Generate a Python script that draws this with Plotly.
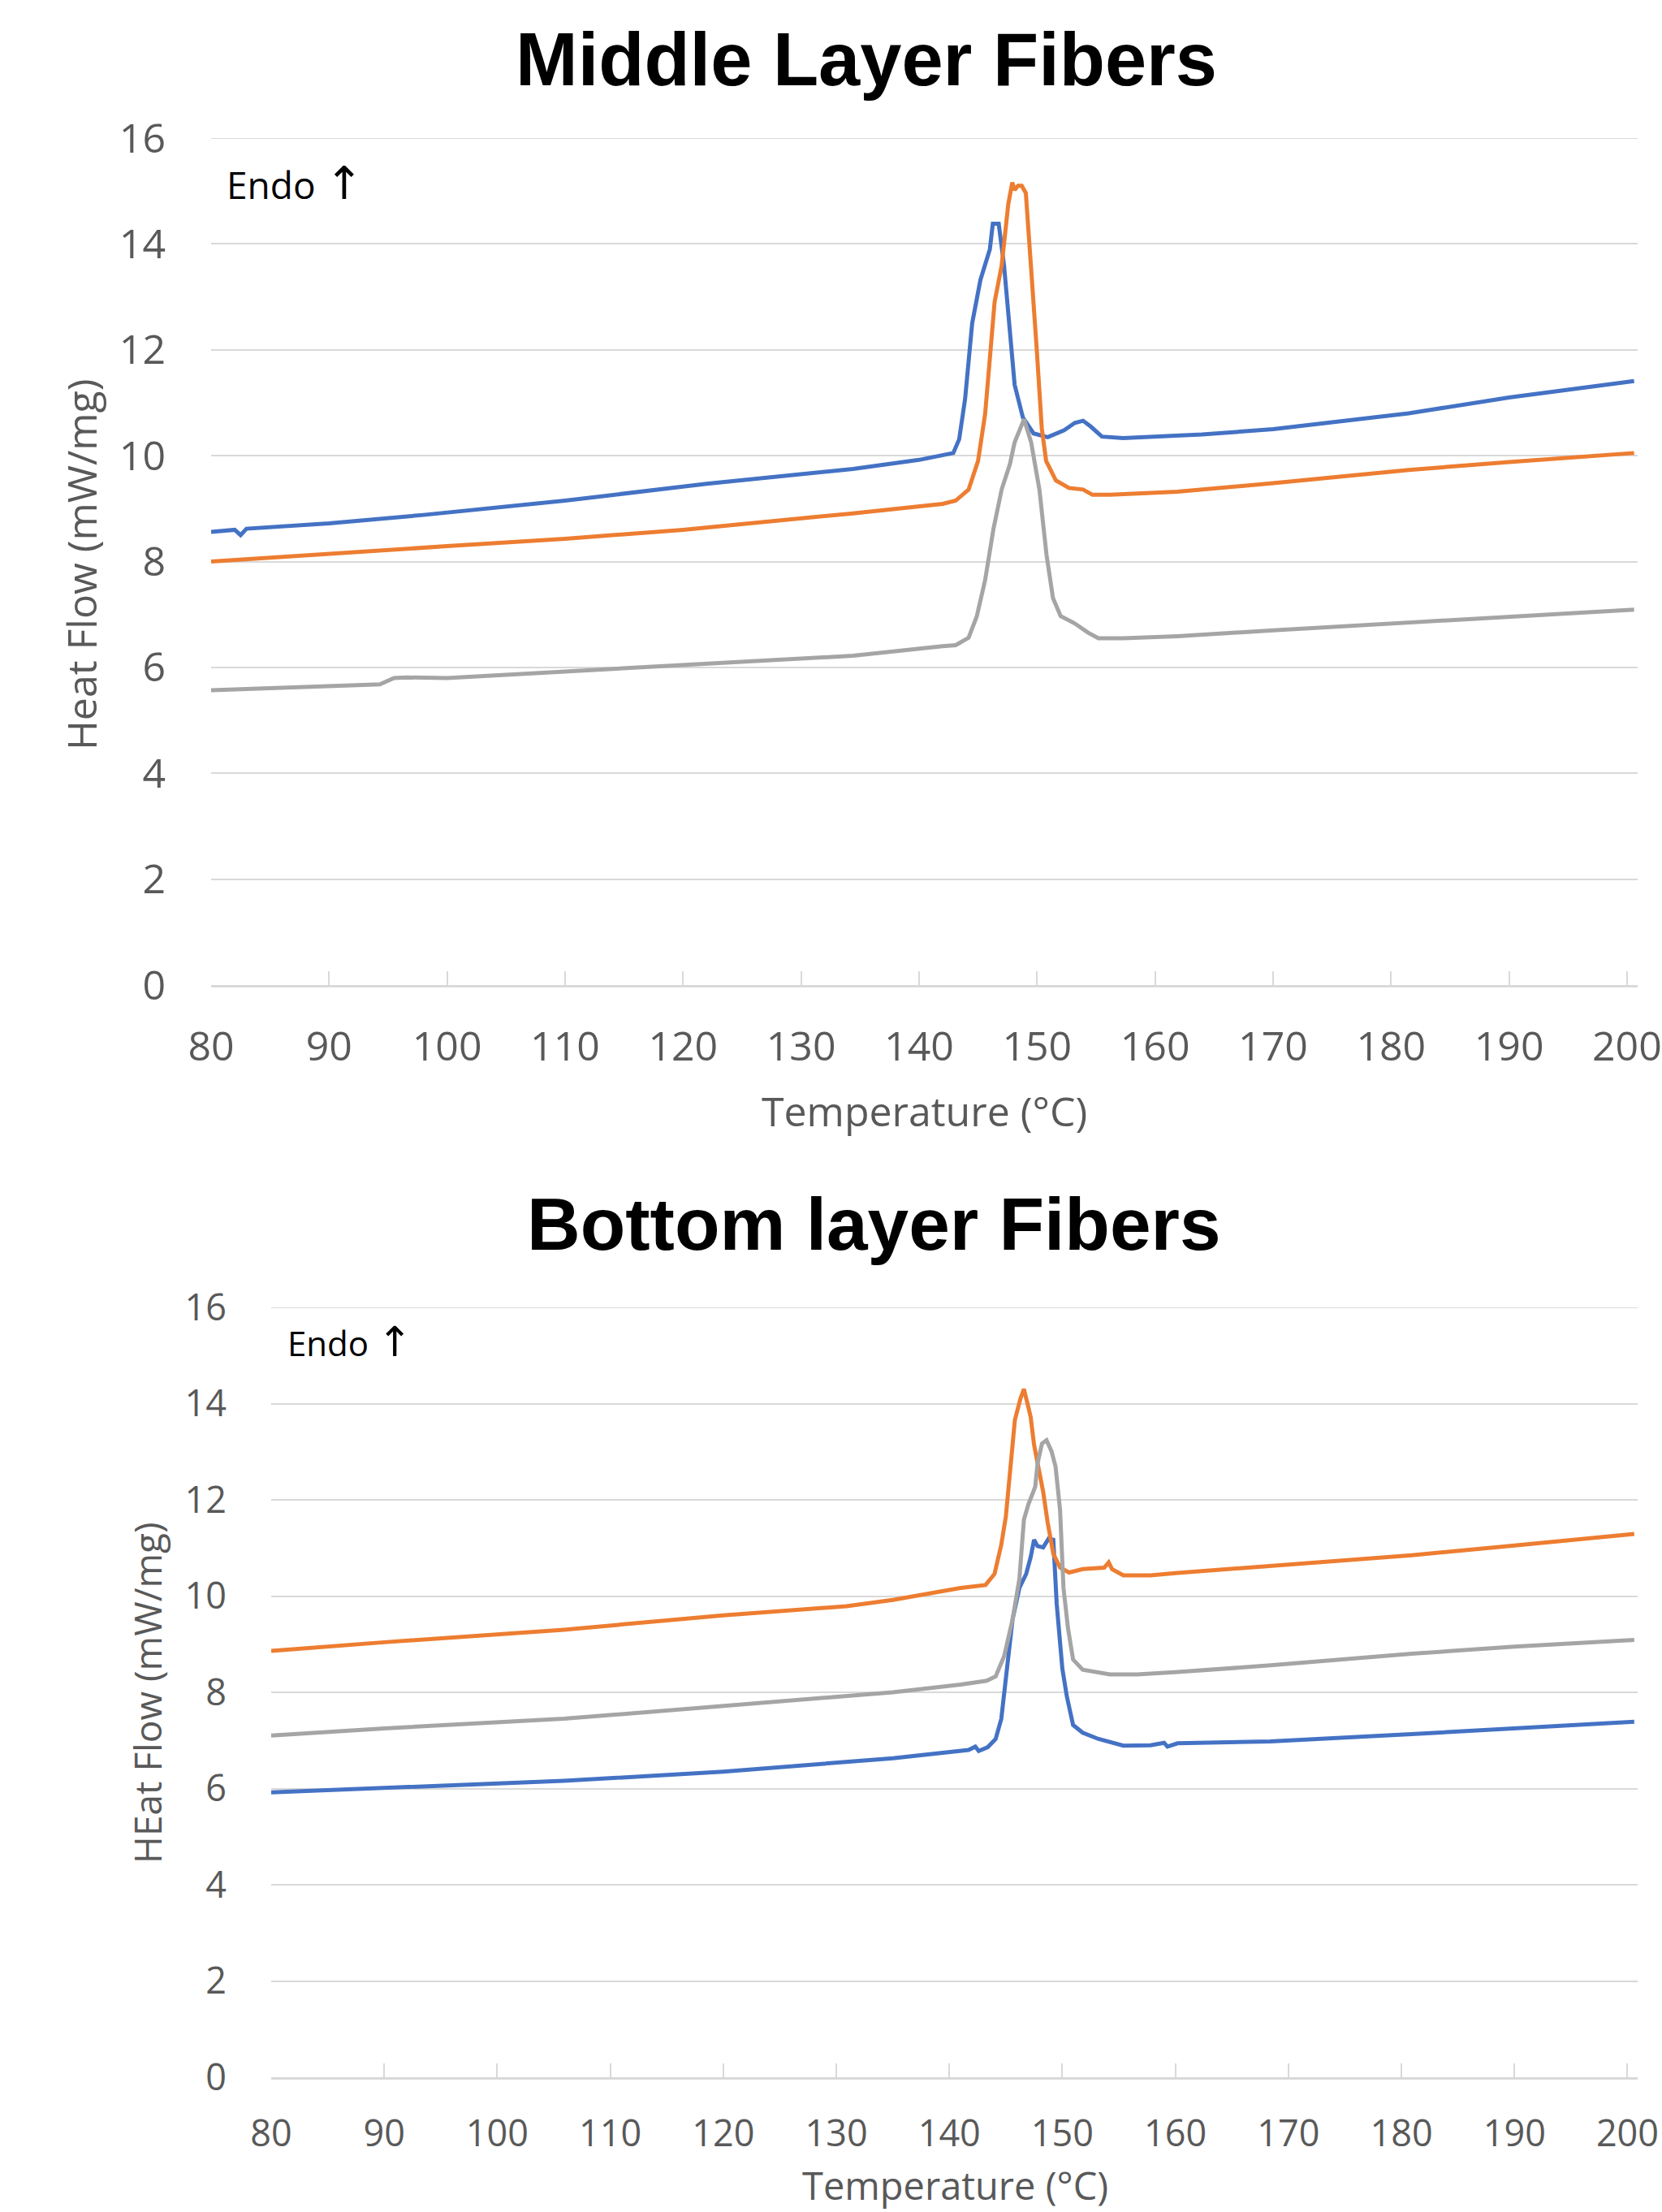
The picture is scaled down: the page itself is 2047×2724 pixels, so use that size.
import plotly.graph_objects as go

W, H = 2047, 2724

# ---------------- Data: Middle Layer Fibers ----------------
mid_blue_T = [80, 82, 82.5, 83, 90, 98, 110, 122, 134.4, 140, 142.9, 143.4, 143.9, 144.5, 145.2, 146.0,
              146.25, 146.75, 147.2, 147.7, 148.1, 148.8, 149.7, 150.9, 152.3, 153.2, 153.9, 154.55,
              155.5, 157.3, 161.7, 164, 170, 181.5, 190, 200.6]
mid_blue_v = [8.56, 8.6, 8.5, 8.62, 8.72, 8.88, 9.15, 9.47, 9.75, 9.92, 10.05, 10.31, 11.07, 12.5, 13.32, 13.9,
              14.38, 14.38, 13.6, 12.43, 11.34, 10.72, 10.42, 10.35, 10.48, 10.62, 10.66, 10.55,
              10.36, 10.33, 10.38, 10.4, 10.5, 10.8, 11.1, 11.41]

mid_orange_T = [80, 90, 100, 110, 120, 134.4, 142, 143.1, 144.2, 145.0, 145.6, 146.07, 146.4, 147.0, 147.56,
                147.9, 148.1, 148.4, 148.7, 149.05, 149.5, 149.97, 150.4, 150.77, 151.6, 152.7, 153.9, 154.7,
                156.2, 161.9, 170, 181.5, 190, 200.6]
mid_orange_v = [8.0, 8.15, 8.29, 8.43, 8.6, 8.91, 9.09, 9.15, 9.36, 9.9, 10.79, 12.02, 12.9, 13.59, 14.75,
                15.16, 15.02, 15.1, 15.1, 14.96, 13.59, 12.02, 10.52, 9.9, 9.53, 9.39, 9.36, 9.26,
                9.26, 9.32, 9.48, 9.73, 9.88, 10.05]

mid_gray_T = [80, 90, 94.3, 95.5, 96.5, 100, 110, 122, 134.4, 142, 143.1, 144.2, 144.9, 145.6, 146.3, 147.0,
              147.7, 148.1, 148.9, 149.5, 150.2, 150.8, 151.35, 152.0, 153.2, 154.3, 155.2, 157.3, 161.9,
              170, 181.5, 190, 200.6]
mid_gray_v = [5.57, 5.64, 5.68, 5.8, 5.81, 5.8, 5.92, 6.08, 6.22, 6.4, 6.42, 6.56, 6.97, 7.65, 8.61, 9.36,
              9.84, 10.25, 10.69, 10.25, 9.36, 8.13, 7.31, 6.97, 6.83, 6.66, 6.55, 6.55, 6.59,
              6.7, 6.85, 6.97, 7.09]

# ---------------- Data: Bottom layer Fibers ----------------
bot_orange_T = [80, 90, 105.9, 120, 130.9, 135.0, 141.0, 143.2, 144.0, 144.6, 145.0, 145.4, 145.8, 146.3,
                146.6, 147.0, 147.2, 147.5, 147.96, 148.3, 148.7, 149.2, 149.8, 150.6, 151.8, 153.7, 154.1,
                154.4, 155.4, 157.8, 160.2, 168.4, 180.9, 190, 200.6]
bot_orange_v = [8.86, 9.04, 9.3, 9.6, 9.79, 9.92, 10.17, 10.23, 10.46, 11.07, 11.65, 12.75, 13.66, 14.11,
                14.3, 13.92, 13.72, 13.14, 12.56, 12.17, 11.53, 10.88, 10.59, 10.49, 10.56, 10.59, 10.7,
                10.56, 10.43, 10.43, 10.48, 10.62, 10.85, 11.05, 11.29]

bot_gray_T = [80, 90, 105.9, 120, 130.9, 135.0, 141.0, 143.3, 144.1, 144.85, 145.6, 146.2, 146.6, 147.0,
              147.6, 147.8, 148.2, 148.6, 149.04, 149.4, 149.8, 150.1, 150.5, 150.95, 151.8, 153.2, 154.2,
              156.6, 160.2, 168.4, 180.9, 190, 200.6]
bot_gray_v = [7.1, 7.25, 7.45, 7.72, 7.92, 8.0, 8.16, 8.24, 8.33, 8.75, 9.52, 10.36, 11.59, 11.91,
              12.27, 12.75, 13.17, 13.24, 13.01, 12.69, 11.78, 10.17, 9.33, 8.68, 8.47, 8.42, 8.37,
              8.37, 8.42, 8.56, 8.8, 8.95, 9.09]

bot_blue_T = [80, 90, 105.9, 120, 130.9, 135.0, 141.7, 142.3, 142.6, 143.4, 144.1, 144.6, 145.1, 145.6,
              146.2, 146.8, 147.2, 147.5, 147.8, 148.3, 148.8, 149.2, 149.5, 150.0, 150.4, 150.95, 151.8,
              153.2, 155.4, 157.8, 159.0, 159.3, 160.2, 168.4, 180.9, 190, 200.6]
bot_blue_v = [5.92, 6.02, 6.16, 6.35, 6.54, 6.63, 6.8, 6.87, 6.78, 6.86, 7.03, 7.45, 8.49, 9.52,
              10.17, 10.46, 10.81, 11.17, 11.04, 11.01, 11.2, 11.17, 9.84, 8.49, 7.91, 7.32, 7.16,
              7.03, 6.89, 6.9, 6.95, 6.87, 6.94, 6.98, 7.13, 7.25, 7.39]

x_ticks = [80, 90, 100, 110, 120, 130, 140, 150, 160, 170, 180, 190, 200]
y_ticks = [0, 2, 4, 6, 8, 10, 12, 14, 16]

BLUE, ORANGE, GRAY = "#4472C4", "#ED7D31", "#A5A5A5"
GRID = "#D9D9D9"
TXT = "#595959"
LW = 5


def px(x):
    return x / W


def py(y):
    return 1 - y / H


fig = go.Figure()

for T, v, c in [(mid_blue_T, mid_blue_v, BLUE), (mid_orange_T, mid_orange_v, ORANGE), (mid_gray_T, mid_gray_v, GRAY)]:
    fig.add_trace(go.Scatter(x=T, y=v, mode="lines", line=dict(color=c, width=LW), xaxis="x", yaxis="y",
                             showlegend=False, hoverinfo="skip"))
for T, v, c in [(bot_blue_T, bot_blue_v, BLUE), (bot_orange_T, bot_orange_v, ORANGE), (bot_gray_T, bot_gray_v, GRAY)]:
    fig.add_trace(go.Scatter(x=T, y=v, mode="lines", line=dict(color=c, width=LW), xaxis="x2", yaxis="y2",
                             showlegend=False, hoverinfo="skip"))


def xax(domain, anchor, fsize, standoff):
    return dict(domain=domain, anchor=anchor, range=[80, 200.9], tickvals=x_ticks,
                ticktext=[str(t) for t in x_ticks], showgrid=False, zeroline=False, automargin=False,
                showline=True, linecolor=GRID, linewidth=2.5, ticks="inside", ticklen=17,
                tickcolor=GRID, tickwidth=2, tickfont=dict(family="Open Sans", size=fsize, color=TXT),
                ticklabelstandoff=standoff)


def yax(domain, anchor, fsize, standoff):
    return dict(domain=domain, anchor=anchor, range=[0, 16], tickvals=y_ticks, automargin=False,
                showgrid=True, gridcolor=GRID, gridwidth=2, zeroline=False, showline=False,
                ticks="", tickfont=dict(family="Open Sans", size=fsize, color=TXT),
                ticklabelstandoff=standoff)


fig.update_layout(
    width=W, height=H, margin=dict(l=0, r=0, t=0, b=0, autoexpand=False),
    paper_bgcolor="white", plot_bgcolor="white",
    xaxis=xax([px(260), px(2017)], "y", 50, 30),
    yaxis=yax([py(1213), py(170)], "x", 50, 55),
    xaxis2=xax([px(334), px(2017)], "y2", 45, 28),
    yaxis2=yax([py(2558), py(1610)], "x2", 45, 54),
)

# top gridline at 16 (drawn explicitly so it shows at the range edge)
for xr, yr in [("x domain", "y"), ("x2 domain", "y2")]:
    fig.add_shape(type="line", xref=xr, yref=yr, x0=0, x1=1, y0=16, y1=16,
                  line=dict(color=GRID, width=2), layer="below")

ann = [
    dict(text="<b>Middle Layer Fibers</b>", x=px(1067), y=py(73), font=dict(family="Liberation Sans", size=92, color="black")),
    dict(text="<b>Bottom layer Fibers</b>", x=px(1076), y=py(1507), font=dict(family="Liberation Sans", size=91, color="black")),
    dict(text="Temperature (°C)", x=px(1138), y=py(1368), font=dict(family="Open Sans", size=50, color=TXT)),
    dict(text="Temperature (°C)", x=px(1176), y=py(2691), font=dict(family="Open Sans", size=47, color=TXT)),
    dict(text="Heat Flow (mW/mg)", x=px(100), y=py(695), textangle=-90, font=dict(family="Open Sans", size=50, color=TXT)),
    dict(text="HEat Flow (mW/mg)", x=px(181), y=py(2085), textangle=-90, font=dict(family="Open Sans", size=46, color=TXT)),
]
for a in ann:
    a.update(xref="paper", yref="paper", showarrow=False, xanchor="center", yanchor="middle")
ann += [
    dict(text='Endo <span style="font-family:DejaVu Sans;font-size:56px">↑</span>', x=px(277), y=py(226),
         xref="paper", yref="paper", showarrow=False,
         xanchor="left", yanchor="middle", font=dict(family="Open Sans", size=46, color="black")),
    dict(text='Endo <span style="font-family:DejaVu Sans;font-size:51px">↑</span>', x=px(352), y=py(1652),
         xref="paper", yref="paper", showarrow=False,
         xanchor="left", yanchor="middle", font=dict(family="Open Sans", size=42, color="black")),
]
fig.update_layout(annotations=ann)

fig.write_html("out.html")
